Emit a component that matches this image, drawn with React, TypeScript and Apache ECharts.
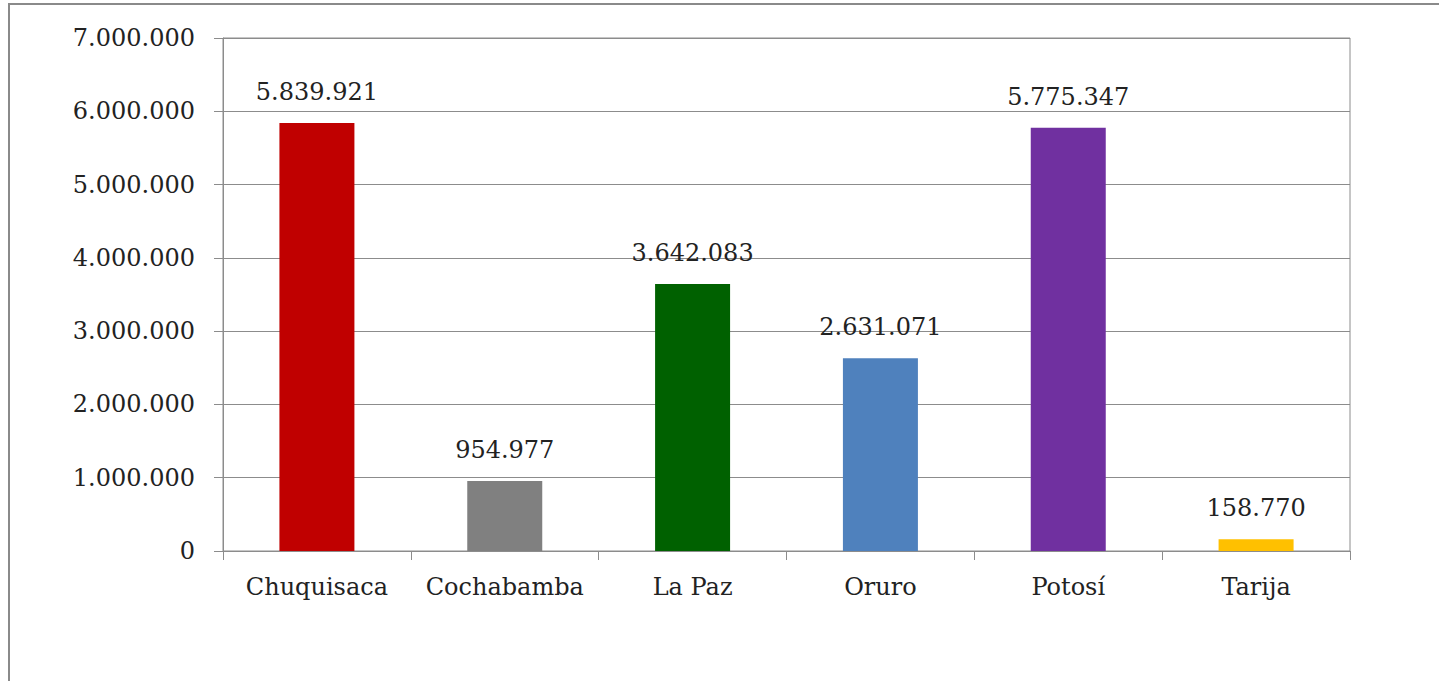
import React, { useEffect, useRef } from "react";
import * as echarts from "echarts";

const categories = ["Chuquisaca", "Cochabamba", "La Paz", "Oruro", "Potosí", "Tarija"];
const values = [5839921, 954977, 3642083, 2631071, 5775347, 158770];
const barColors = ["#C00000", "#808080", "#006100", "#4F81BD", "#7030A0", "#FFC000"];

const fmt = (v: number) => String(Math.round(v)).replace(/\B(?=(\d{3})+(?!\d))/g, ".");

export default function App() {
  const ref = useRef<HTMLDivElement>(null);
  useEffect(() => {
    if (!ref.current) return;
    const chart = echarts.init(ref.current, undefined, { renderer: "svg" });
    const font = "'DejaVu Serif', serif";
    chart.setOption({
      animation: false,
      backgroundColor: "#ffffff",
      graphic: [
        {
          type: "rect",
          shape: { x: 9, y: 4, width: 1500, height: 720 },
          style: { fill: "none", stroke: "#8a8a8a", lineWidth: 2 },
          silent: true,
        },
      ],
      grid: {
        left: 223,
        right: 89,
        top: 38,
        bottom: 130,
        show: true,
        borderColor: "#8c8c8c",
        borderWidth: 1,
      },
      xAxis: {
        type: "category",
        data: categories,
        axisLine: { lineStyle: { color: "#8c8c8c", width: 1 } },
        axisTick: { show: true, interval: 0, alignWithLabel: false, length: 9, lineStyle: { color: "#8c8c8c" } },
        axisLabel: { interval: 0, color: "#222", fontFamily: font, fontSize: 24, margin: 24 },
      },
      yAxis: {
        type: "value",
        min: 0,
        max: 7000000,
        interval: 1000000,
        axisLine: { show: true, lineStyle: { color: "#8c8c8c", width: 1 } },
        axisTick: { show: true, length: 9, lineStyle: { color: "#8c8c8c" } },
        splitLine: { lineStyle: { color: "#8c8c8c", width: 1 } },
        axisLabel: {
          color: "#222",
          fontFamily: font,
          fontSize: 24,
          margin: 28,
          formatter: (v: number) => fmt(v),
        },
      },
      series: [
        {
          type: "bar",
          barWidth: 75,
          data: values.map((v, i) => ({ value: v, itemStyle: { color: barColors[i] } })),
          label: {
            show: true,
            position: "top",
            distance: 19,
            color: "#222",
            fontFamily: font,
            fontSize: 24,
            formatter: (p: any) => fmt(p.value),
          },
        },
      ],
    });
    return () => chart.dispose();
  }, []);
  return (
    <div
      ref={ref}
      style={{ position: "absolute", left: 0, top: 0, width: 1439, height: 681 }}
    />
  );
}
